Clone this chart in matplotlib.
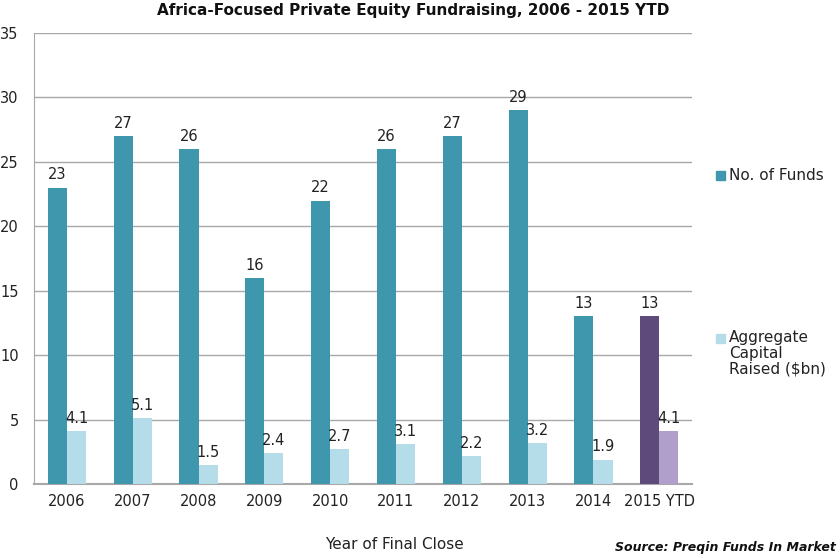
import matplotlib
matplotlib.use("Agg")
import matplotlib.pyplot as plt
from matplotlib.patches import Rectangle
import numpy as np

categories = ["2006", "2007", "2008", "2009", "2010", "2011", "2012", "2013", "2014", "2015 YTD"]
num_funds = [23, 27, 26, 16, 22, 26, 27, 29, 13, 13]
capital_raised = [4.1, 5.1, 1.5, 2.4, 2.7, 3.1, 2.2, 3.2, 1.9, 4.1]

dark = "#3f97ae"
light = "#b4dde9"
dark_ytd = "#5e4a7b"
light_ytd = "#b09fca"

plt.rcParams['font.family'] = ['DejaVu Sans']

fig = plt.figure(figsize=(8.4, 5.58), dpi=100)
ax = fig.add_axes([0.0405, 0.1326, 0.7835, 0.8083])

x = np.arange(len(categories))
w = 0.29
dcols = [dark] * (len(categories) - 1) + [dark_ytd]
lcols = [light] * (len(categories) - 1) + [light_ytd]
ax.bar(x - w / 2, num_funds, width=w, color=dcols, zorder=3)
ax.bar(x + w / 2, capital_raised, width=w, color=lcols, zorder=3)

for xi, v in zip(x, num_funds):
    ax.text(xi - w / 2, v + 0.4, f"{v}", ha="center", va="bottom", fontsize=10.5, color="#222222")
for xi, v in zip(x, capital_raised):
    ax.text(xi + w / 2, v + 0.4, f"{v}", ha="center", va="bottom", fontsize=10.5, color="#222222")

ax.set_xlim(-0.5, len(categories) - 0.5)
ax.set_ylim(0, 35)
ax.set_yticks(range(0, 36, 5))
ax.set_xticks(x)
ax.set_xticklabels(categories)
ax.tick_params(axis="both", length=0, labelsize=10.5, colors="#222222")
ax.tick_params(axis="y", pad=11)
ax.tick_params(axis="x", pad=7)
ax.yaxis.grid(True, color="#a8a8a8", linewidth=1, zorder=0)
ax.set_axisbelow(True)
for s in ["top", "right"]:
    ax.spines[s].set_visible(False)
ax.spines["left"].set_color("#a8a8a8")
ax.spines["bottom"].set_color("#a8a8a8")
ax.spines["bottom"].set_linewidth(1.5)

fig.text(0.492, 0.982, "Africa-Focused Private Equity Fundraising, 2006 - 2015 YTD",
         ha="center", va="center", fontsize=11, fontweight="bold", color="#111111")
fig.text(0.47, 0.024, "Year of Final Close", ha="center", va="center", fontsize=11, color="#222222")
fig.text(0.995, 0.018, "Source: Preqin Funds In Market", ha="right", va="center",
         fontsize=9, fontweight="bold", style="italic", color="#111111")

# legend
fig.patches.append(Rectangle((0.8525, 0.677), 0.0105, 0.016, transform=fig.transFigure,
                             color=dark))
fig.text(0.868, 0.686, "No. of Funds", ha="left", va="center", fontsize=11, color="#222222")
fig.patches.append(Rectangle((0.8525, 0.385), 0.0105, 0.016, transform=fig.transFigure,
                             color=light))
fig.text(0.868, 0.408, "Aggregate\nCapital\nRaised ($bn)", ha="left", va="top",
         fontsize=11, color="#222222", linespacing=1.05)

fig.savefig("out.png", dpi=100, facecolor="white")
